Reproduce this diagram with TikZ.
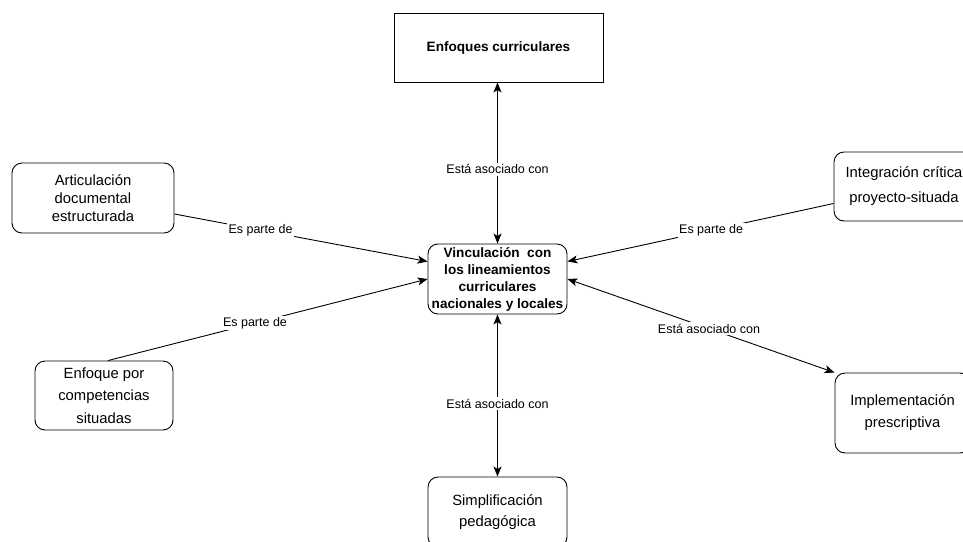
\documentclass[tikz,border=0pt]{standalone}
\usepackage{fontspec}
\setmainfont{Liberation Sans}
\usetikzlibrary{arrows.meta,positioning}
\tikzset{
    mapbox/.style={draw, line width=0.9pt, rounded corners=10pt, align=center,
        inner sep=0pt, font=\fontsize{14.8}{18}\selectfont},
    mainbox/.style={mapbox, font=\bfseries\fontsize{13.6}{17}\selectfont},
    maptip/.tip={Stealth[length=10pt, width=8pt, inset=2.5pt]},
    maplink/.style={-maptip, line width=0.9pt},
    bothlink/.style={maptip-maptip, line width=0.9pt},
    linklabel/.style={fill=white, inner sep=1.5pt, font=\fontsize{12.5}{15}\selectfont}
}

\begin{document}
\begin{tikzpicture}[x=1pt, y=-1pt]
\useasboundingbox (0,0) rectangle (963,541);
% concept boxes
\node[mainbox, rounded corners=0pt, minimum width=209pt, minimum height=69pt] (topic) at (498.5,47.5) {Enfoques curriculares};
\node[mainbox, minimum width=139pt, minimum height=70pt] (center) at (497.5,279) {Vinculación~ con\\los lineamientos\\curriculares\\nacionales y locales};
\node[mapbox, minimum width=162pt, minimum height=70pt, font=\fontsize{14.8}{17.7}\selectfont] (artic) at (93,198) {Articulación\\documental\\estructurada};
\node[mapbox, minimum width=138pt, minimum height=69pt, font=\fontsize{14.8}{22.5}\selectfont] (comp) at (104,395.5) {Enfoque por\\competencias\\situadas};
\node[mapbox, minimum width=140pt, minimum height=69pt, font=\fontsize{14.8}{25}\selectfont] (integ) at (904,186.5) {Integración crítica\\proyecto-situada};
\node[mapbox, minimum width=135pt, minimum height=80pt, font=\fontsize{14.8}{22}\selectfont] (implem) at (902.5,413) {Implementación\\prescriptiva};
\node[mapbox, minimum width=139pt, minimum height=70pt, font=\fontsize{14.8}{21.5}\selectfont] (simpl) at (497.5,512) {Simplificación\\pedagógica};
% links
\draw[bothlink] (center.north) -- (center.north |- topic.south) node[linklabel, pos=0.46] {Está asociado con};
\draw[maplink] ([yshift=-16pt]artic.east) -- ([yshift=17.5pt]center.west) node[linklabel, pos=0.34] {Es parte de};
\draw[maplink] ([xshift=4pt]comp.north) -- (center.west) node[linklabel, pos=0.46] {Es parte de};
\draw[maplink] ([yshift=-17pt]integ.west) -- ([yshift=17.5pt]center.east) node[linklabel, pos=0.46] {Es parte de};
\draw[bothlink] (center.east) -- (implem.north west) node[linklabel, pos=0.53] {Está asociado con};
\draw[bothlink] (center.south) -- (center.south |- simpl.north) node[linklabel, pos=0.55] {Está asociado con};
\end{tikzpicture}
\end{document}
